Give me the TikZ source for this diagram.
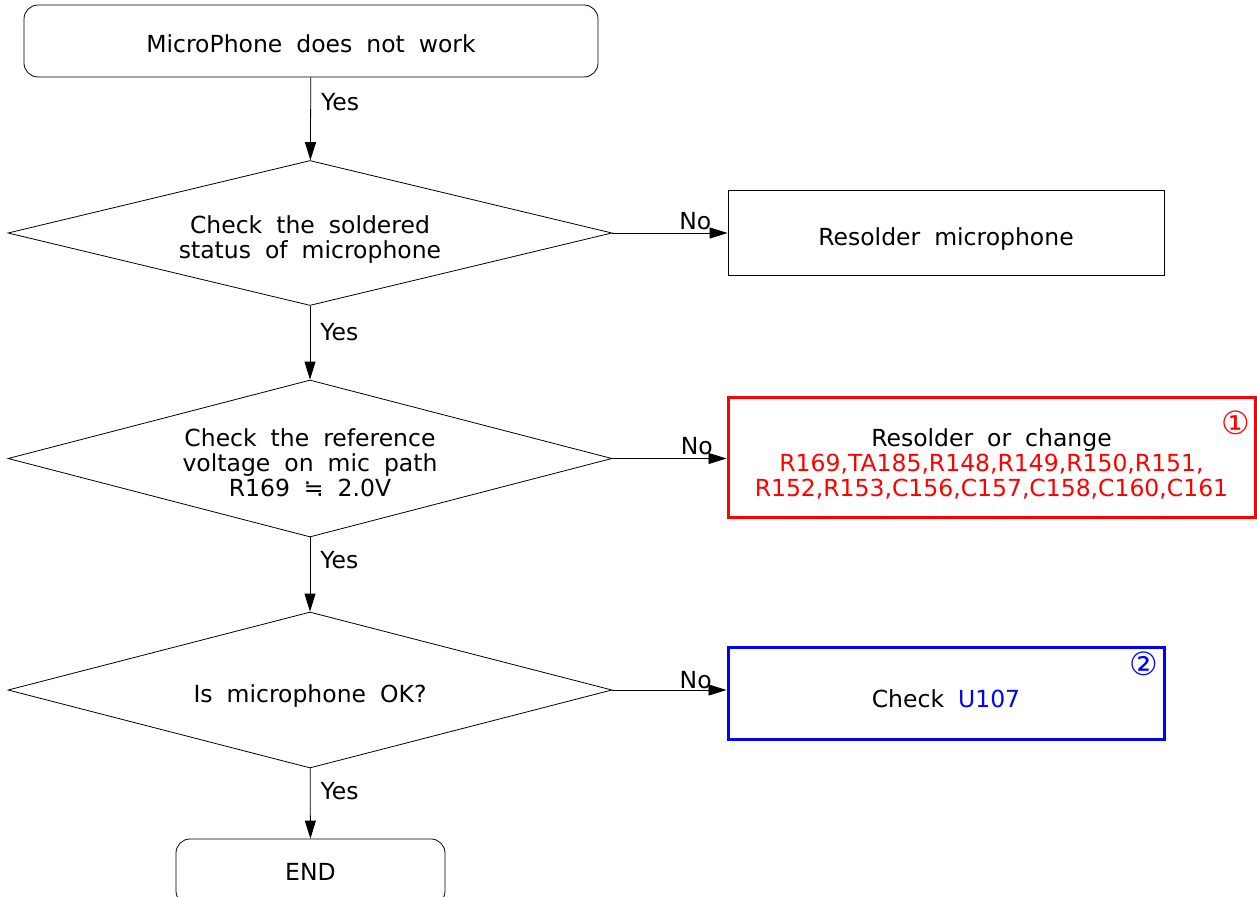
\documentclass[tikz,border=0pt]{standalone}
\usepackage{fontspec}
\setmainfont{DejaVu Sans}
\usetikzlibrary{calc, arrows.meta, shapes.geometric}
\newcommand*\dropline[1]{\rule{0pt}{#1}}
\tikzset{
    flowtext/.style={font=\fontsize{23.5}{25}\selectfont, align=center, inner sep=0pt,
        execute at begin node={\spaceskip=14pt\relax}},
    dropped/.style={execute at begin node={\spaceskip=14pt\relax\rule{0pt}{#1}}},
    terminal/.style={flowtext, draw, line width=0.8pt, rounded corners=14pt},
    decide/.style={flowtext, dropped=29pt, draw, line width=0.8pt, diamond, minimum width=604pt},
    action/.style={flowtext, dropped=30pt, draw, line width=0.8pt, rectangle, minimum width=436pt},
    flow/.style={line width=0.8pt, -{Triangle[length=18pt,width=11pt]}},
    circnum/.style={font=\fontsize{32}{32}\selectfont, inner sep=0pt},
}

\begin{document}
\begin{tikzpicture}[x=1pt, y=-1pt]
        \useasboundingbox (0,0) rectangle (1257,896);

        \node[terminal, dropped=24pt, minimum width=574pt, minimum height=72pt] (start) at (311,41) {MicroPhone does not work};
        \node[decide, shape aspect=4.17, minimum height=145pt] (solder) at (310,233) {\dropline{30pt}Check the soldered\\status of microphone};
        \node[decide, shape aspect=3.85, minimum height=157pt] (vref) at (310,458.5) {\dropline{27pt}Check the reference\\voltage on mic path\\R169 ≒ 2.0V};
        \node[decide, shape aspect=3.87, minimum height=156pt] (micok) at (310,690) {Is microphone OK?};
        \node[terminal, minimum width=269pt, minimum height=66pt] (finish) at (310.5,872) {END};

        \node[action, minimum height=85pt] (resolder) at (946,232.5) {Resolder microphone};
        \node[action, draw=red, line width=3pt, minimum width=527pt, minimum height=120pt, text=red] (change) at (991.5,457)
            {\dropline{32pt}\textcolor{black}{Resolder or change}\\R169,TA185,R148,R149,R150,R151,\\R152,R153,C156,C157,C158,C160,C161};
        \node[action, dropped=24pt, draw=blue, line width=3pt, minimum height=92pt] (checku) at (946,693) {Check \textcolor{blue}{U107}};

        \node[circnum, text=red] at ($(change.north east)+(-21,27)$) {①};
        \node[circnum, text=blue] at ($(checku.north east)+(-22,18)$) {②};

        \draw[flow] (start) -- node[flowtext, right=10pt, pos=0.3] {Yes} (solder);
        \draw[flow] (solder) -- node[flowtext, right=10pt, pos=0.35] {Yes} (vref);
        \draw[flow] (vref) -- node[flowtext, right=10pt, pos=0.3] {Yes} (micok);
        \draw[flow] (micok) -- node[flowtext, right=10pt, pos=0.33] {Yes} (finish);

        \draw[flow] (solder.east) -- node[flowtext, above=3pt, pos=0.72] {No} (solder.east -| resolder.west);
        \draw[flow] (vref.east) -- node[flowtext, above=3pt, pos=0.74] {No} (vref.east -| change.west);
        \draw[flow] (micok.east) -- node[flowtext, above=1pt, pos=0.73] {No} (micok.east -| checku.west);
    \end{tikzpicture}
\end{document}
